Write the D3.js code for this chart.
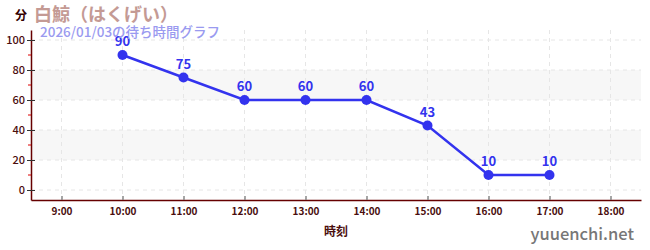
<!DOCTYPE html>
<html>
<head>
<meta charset="utf-8">
<script src="https://cdn.jsdelivr.net/npm/d3@7"></script>
<style>
  body { margin: 0; background: #fff; }
  text { font-family: "Noto Sans CJK JP", "Noto Sans", sans-serif; }
</style>
</head>
<body>
<div class="canvas"></div>
<script>
const hours = [9, 10, 11, 12, 13, 14, 15, 16, 17, 18];
const pointHours = [10, 11, 12, 13, 14, 15, 16, 17];
const waits = [90, 75, 60, 60, 60, 43, 10, 10];
const yTicks = [0, 20, 40, 60, 80, 100];
const yMinor = [10, 30, 50, 70, 90];
const bands = [[20, 40], [60, 80]];

const dims = { width: 650, height: 250 };
const plot = { left: 31, right: 641, top: 30, bottom: 200 };

const svg = d3
  .select(".canvas")
  .append("svg")
  .attr("width", dims.width)
  .attr("height", dims.height);

const x = d3.scaleLinear().domain([8.5, 18.5]).range([plot.left, plot.right]);
const y = d3.scaleLinear().domain([-20 / 3, 320 / 3]).range([plot.bottom, plot.top]);

// shaded bands
svg
  .append("g")
  .selectAll("rect")
  .data(bands)
  .enter()
  .append("rect")
  .attr("x", plot.left)
  .attr("width", plot.right - plot.left)
  .attr("y", (d) => y(d[1]))
  .attr("height", (d) => y(d[0]) - y(d[1]))
  .attr("fill", "#f7f7f7");

// grid
const grid = svg.append("g").attr("stroke", "#e6e6e6").attr("stroke-dasharray", "4,4");
grid
  .selectAll(".hg")
  .data(yTicks)
  .enter()
  .append("line")
  .attr("x1", plot.left)
  .attr("x2", plot.right)
  .attr("y1", (d) => y(d))
  .attr("y2", (d) => y(d));
grid
  .selectAll(".vg")
  .data(hours)
  .enter()
  .append("line")
  .attr("x1", (d) => x(d))
  .attr("x2", (d) => x(d))
  .attr("y1", plot.top)
  .attr("y2", plot.bottom);

// y axis
const yAxis = svg
  .append("g")
  .attr("transform", `translate(${plot.left},0)`)
  .call(d3.axisLeft(y).tickValues(yTicks).tickSize(4).tickSizeOuter(0));
yAxis.select(".domain").attr("stroke", "#660000").attr("stroke-width", 1.5);
yAxis.selectAll(".tick line").attr("stroke", "#333").attr("x1", 4).attr("x2", -4);
yAxis
  .selectAll(".tick text")
  .attr("fill", "#4a0d0d")
  .attr("font-size", 11)
  .attr("font-weight", 500)
  .attr("x", -6);

svg
  .append("g")
  .selectAll("line")
  .data(yMinor)
  .enter()
  .append("line")
  .attr("x1", plot.left - 3)
  .attr("x2", plot.left)
  .attr("y1", (d) => y(d))
  .attr("y2", (d) => y(d))
  .attr("stroke", "#dd0000");

// x axis
const xAxis = svg
  .append("g")
  .attr("transform", `translate(0,${plot.bottom})`)
  .call(
    d3
      .axisBottom(x)
      .tickValues(hours)
      .tickFormat((d) => `${d}:00`)
      .tickSize(0)
      .tickPadding(8)
  );
xAxis.select(".domain").attr("stroke", "#660000").attr("stroke-width", 1.5);
xAxis.selectAll(".tick line").attr("y2", -4).attr("stroke", "#888").attr("stroke-width", 1.5);
xAxis
  .selectAll(".tick text")
  .attr("fill", "#4a0d0d")
  .attr("font-size", 10)
  .attr("font-weight", "bold");

// line + points
const pts = pointHours.map((h, i) => ({ h, v: waits[i] }));

svg
  .append("path")
  .datum(pts)
  .attr("fill", "none")
  .attr("stroke", "#3333ee")
  .attr("stroke-width", 2.5)
  .attr(
    "d",
    d3
      .line()
      .x((d) => x(d.h))
      .y((d) => y(d.v))
  );

svg
  .append("g")
  .selectAll("circle")
  .data(pts)
  .enter()
  .append("circle")
  .attr("cx", (d) => x(d.h))
  .attr("cy", (d) => y(d.v))
  .attr("r", 5)
  .attr("fill", "#3333ee");

svg
  .append("g")
  .selectAll("text")
  .data(pts)
  .enter()
  .append("text")
  .attr("x", (d) => x(d.h))
  .attr("y", (d) => y(d.v) - 9)
  .attr("text-anchor", "middle")
  .attr("font-size", 13)
  .attr("font-weight", "bold")
  .attr("fill", "#3333ee")
  .text((d) => d.v);

// titles and labels
svg
  .append("text")
  .attr("x", 15)
  .attr("y", 20)
  .attr("font-size", 12)
  .attr("font-weight", "bold")
  .attr("fill", "#330000")
  .text("分");

svg
  .append("text")
  .attr("x", 34)
  .attr("y", 21)
  .attr("font-size", 18)
  .attr("font-weight", "bold")
  .attr("fill", "#c49a94")
  .text("白鯨（はくげい）");

svg
  .append("text")
  .attr("x", 40)
  .attr("y", 37)
  .attr("font-size", 13.5)
  .attr("font-weight", 500)
  .attr("fill", "#9a9af0")
  .text("2026/01/03の待ち時間グラフ");

svg
  .append("text")
  .attr("x", (plot.left + plot.right) / 2)
  .attr("y", 236)
  .attr("text-anchor", "middle")
  .attr("font-size", 12)
  .attr("font-weight", "bold")
  .attr("fill", "#4a0d0d")
  .text("時刻");

svg
  .append("text")
  .attr("x", 634)
  .attr("y", 240)
  .attr("text-anchor", "end")
  .attr("font-size", 16.5)
  .attr("font-weight", 500)
  .attr("fill", "#777")
  .text("yuuenchi.net");
</script>
</body>
</html>
